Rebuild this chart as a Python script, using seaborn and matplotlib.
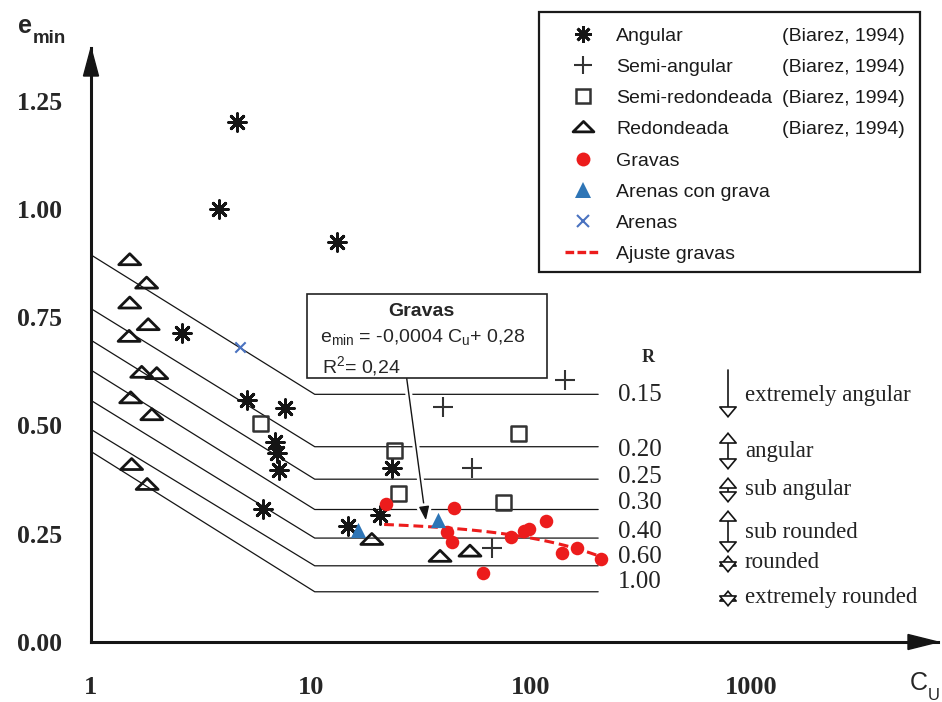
import numpy as np
import matplotlib
matplotlib.use("Agg")
import matplotlib.pyplot as plt
import seaborn as sns
from matplotlib.lines import Line2D
from matplotlib.patches import Rectangle, Polygon
from matplotlib.path import Path
from matplotlib.ticker import NullLocator, FixedLocator
import matplotlib.patheffects as pe

# ---------------- data ----------------
# Biarez (1994) reference points, e_min versus uniformity coefficient Cu
angular_cu = [4.62, 3.82, 13.1, 2.58, 5.13, 7.62, 6.86, 7.03, 7.18, 6.02, 23.3, 20.6, 14.8]
angular_e = [1.20, 1.00, 0.924, 0.713, 0.560, 0.540, 0.463, 0.437, 0.397, 0.307, 0.401, 0.293, 0.267]

semiang_cu = [142.7, 39.9, 54.1, 66.3]
semiang_e = [0.604, 0.543, 0.401, 0.216]

semired_cu = [5.91, 24.0, 87.6, 25.0, 74.8]
semired_e = [0.505, 0.442, 0.481, 0.343, 0.322]

redond_cu = [1.50, 1.79, 1.50, 1.82, 1.49, 1.70, 1.99, 1.515, 1.89, 1.53, 1.80, 18.9, 38.6, 52.8]
redond_e = [0.882, 0.828, 0.782, 0.732, 0.705, 0.622, 0.619, 0.563, 0.524, 0.409, 0.363, 0.236, 0.197, 0.209]

# own samples
gravas_cu = [21.9, 44.7, 41.4, 43.6, 80.9, 92.9, 98.3, 116.6, 60.3, 137.9, 161.3, 207.4]
gravas_e = [0.319, 0.309, 0.255, 0.232, 0.242, 0.257, 0.260, 0.280, 0.159, 0.205, 0.216, 0.192]

arenas_grava_cu = [16.4, 37.9]
arenas_grava_e = [0.259, 0.282]

arenas_cu = [4.76]
arenas_e = [0.681]

# linear fit for the gravels
fit_slope = -0.0004
fit_intercept = 0.28
fit_r2 = 0.24
fit_cu_min, fit_cu_max = 21.5, 210.0

# roundness (R) reference lines
r_labels = ["0.15", "0.20", "0.25", "0.30", "0.40", "0.60", "1.00"]
r_e_at_cu1 = [0.894, 0.770, 0.697, 0.628, 0.558, 0.491, 0.440]
r_e_plateau = [0.572, 0.451, 0.376, 0.306, 0.240, 0.176, 0.116]
r_knee_cu = 10.4
r_end_cu = 202.0
roundness_classes = ["extremely angular", "angular", "sub angular",
                     "sub rounded", "rounded", "extremely rounded"]

x_ticks = [1, 10, 100, 1000]
x_ticklabels = ["1", "10", "100", "1000"]
y_ticks = [0.0, 0.25, 0.50, 0.75, 1.00, 1.25]
y_ticklabels = ["0.00", "0.25", "0.50", "0.75", "1.00", "1.25"]

legend_labels = ["Angular", "Semi-angular", "Semi-redondeada", "Redondeada",
                 "Gravas", "Arenas con grava", "Arenas", "Ajuste gravas"]
citation = "(Biarez, 1994)"

# ---------------- style ----------------
sns.set_theme(style="white")
plt.rcParams["font.family"] = ["Liberation Sans", "DejaVu Sans"]
plt.rcParams["mathtext.fontset"] = "custom"
plt.rcParams["mathtext.rm"] = "Liberation Sans"
plt.rcParams["mathtext.it"] = "Liberation Sans:italic"
plt.rcParams["mathtext.bf"] = "Liberation Sans:bold"

SERIF = ["Liberation Serif", "DejaVu Serif"]
SANS = ["Liberation Sans", "DejaVu Sans"]
RED = "#ec1c1c"
BLUE = "#2e75b6"
XBLUE = "#4a72c0"
INK = "#151515"

W, H = 942, 702
DPI = 100


def fpx(x, y):
    """figure fraction from pixel position (origin top-left)"""
    return (x / W, 1 - y / H)


fig = plt.figure(figsize=(W / DPI, H / DPI), dpi=DPI)
fig.patch.set_facecolor("white")

# axes: Cu = 1 at the vertical axis, 220 px per decade, 433 px per unit e_min
ax_l, ax_r, ax_b, ax_t = 91, 938, 642, 48
ax = fig.add_axes([ax_l / W, 1 - ax_b / H, (ax_r - ax_l) / W, (ax_b - ax_t) / H])
ax.set_facecolor("white")
ax.set_xscale("log")
ax.set_xlim(1, 10 ** ((ax_r - ax_l) / 220))
ax.set_ylim(0, (ax_b - ax_t) / 433)

# roundness lines
for e0, ep in zip(r_e_at_cu1, r_e_plateau):
    ax.plot([1, r_knee_cu, r_end_cu], [e0, ep, ep], color=INK, lw=0.9, zorder=1)

# squat open triangle marker
tri_path = Path([(-1, -0.42), (1, -0.42), (0, 0.58), (-1, -0.42)],
                [Path.MOVETO, Path.LINETO, Path.LINETO, Path.CLOSEPOLY])
star = (8, 2, 0)

sns.scatterplot(x=angular_cu, y=angular_e, ax=ax, marker=star, s=160,
                color=INK, linewidth=2.1, zorder=3)
sns.scatterplot(x=semiang_cu, y=semiang_e, ax=ax, marker="+", s=190,
                color="#333333", linewidth=1.5, zorder=3)
sns.scatterplot(x=semired_cu, y=semired_e, ax=ax, marker="s", s=120,
                facecolor="none", edgecolor="#333333", linewidth=1.8, zorder=3)
sns.scatterplot(x=redond_cu, y=redond_e, ax=ax, marker=tri_path, s=250,
                facecolor="none", edgecolor=INK, linewidth=2.0, zorder=3)
sns.scatterplot(x=arenas_cu, y=arenas_e, ax=ax, marker="x", s=55,
                color=XBLUE, linewidth=1.5, zorder=3)

fit_cu = np.geomspace(fit_cu_min, fit_cu_max, 120)
fit_e = fit_slope * fit_cu + fit_intercept
sns.lineplot(x=fit_cu, y=fit_e, ax=ax, color=RED, linewidth=2.2,
             linestyle=(0, (3.2, 1.6)), zorder=4)

sns.scatterplot(x=gravas_cu, y=gravas_e, ax=ax, marker="o", s=95,
                color=RED, edgecolor=RED, linewidth=0, zorder=5)
sns.scatterplot(x=arenas_grava_cu, y=arenas_grava_e, ax=ax, marker="^", s=120,
                color=BLUE, edgecolor=BLUE, linewidth=0, zorder=5)

# axes, ticks and arrowheads
for side in ("top", "right"):
    ax.spines[side].set_visible(False)
for side in ("left", "bottom"):
    ax.spines[side].set_linewidth(2.2)
    ax.spines[side].set_color(INK)
ax.grid(False)

ax.xaxis.set_major_locator(FixedLocator(x_ticks))
ax.xaxis.set_minor_locator(NullLocator())
ax.set_xticklabels(x_ticklabels, fontfamily=SERIF, fontweight="bold", fontsize=19)
ax.set_yticks(y_ticks)
ax.set_yticklabels(y_ticklabels, fontfamily=SERIF, fontweight="bold", fontsize=18.5)
ax.tick_params(axis="x", direction="inout", length=17, width=1.5, color=INK, pad=16)
ax.tick_params(axis="y", direction="inout", length=16, width=1.5, color=INK, pad=13)

axw, axh = ax_r - ax_l, ax_b - ax_t
ax.add_patch(Polygon([[-7.5 / axw, 1 - 28 / axh], [7.5 / axw, 1 - 28 / axh], [0, 1]],
                     closed=True, transform=ax.transAxes, clip_on=False,
                     color=INK, zorder=6))
ax.add_patch(Polygon([[1 - 30 / axw, -7.5 / axh], [1 - 30 / axw, 7.5 / axh], [1, 0]],
                     closed=True, transform=ax.transAxes, clip_on=False,
                     color=INK, zorder=6))

# axis titles
fig.text(*fpx(18, 33), "e", fontsize=18, fontweight="bold", family=SANS, va="baseline")
fig.text(*fpx(33, 43), "min", fontsize=13.5, fontweight="bold", family=SANS, va="baseline")
fig.text(*fpx(910, 690), "C", fontsize=18, family=SANS, va="baseline")
fig.text(*fpx(928, 700), "U", fontsize=12, family=SANS, va="baseline")

# roundness scale on the right
fig.text(*fpx(648, 357), "R", fontsize=13, fontweight="bold", family=SERIF,
         ha="center", va="center")
r_label_y = [395, 450, 477, 503, 532, 557, 582]
for lab, yy in zip(r_labels, r_label_y):
    fig.text(*fpx(640, yy), lab, fontsize=18, family=SERIF, ha="center",
             va="center", color="#222222")

arrow_spans = [(370, 418, "-|>"), (432, 470, "<|-|>"), (477, 503, "<|-|>"),
               (510, 553, "<|-|>"), (555, 573, "<|-|>"), (590, 607, "<|-|>")]
class_y = [395, 452, 490, 532, 562, 598]
for (y0, y1, style), name, yy in zip(arrow_spans, roundness_classes, class_y):
    ax.annotate("", xy=fpx(728, y1), xytext=fpx(728, y0),
                xycoords="figure fraction", textcoords="figure fraction",
                arrowprops=dict(arrowstyle=style + ",head_length=0.5,head_width=0.42",
                                fc="white", ec=INK, lw=1.2, shrinkA=0, shrinkB=0,
                                mutation_scale=14))
    fig.text(*fpx(745, yy), name, fontsize=16.5, family=SERIF, va="center",
             color="#222222")

# fit annotation box
fig.add_artist(Rectangle(fpx(306.7, 378.3), (546.7 - 306.7) / W, (378.3 - 294) / H,
                         transform=fig.transFigure, fill=True, fc="white",
                         ec="#222222", lw=1.2, zorder=2))
fig.text(*fpx(421.7, 311.7), "Gravas", fontsize=14, fontweight="bold", family=SANS,
         ha="center", va="center", zorder=3)
fig.text(*fpx(320, 336.7),
         r"e$_{\rm min}$ = %s C$_{\rm u}$+ %s" % (f"{fit_slope:.4f}".replace(".", ","),
                                                 f"{fit_intercept:.2f}".replace(".", ",")),
         fontsize=14, family=SANS, va="center", zorder=3)
fig.text(*fpx(321.7, 366), r"R$^{2}$= %s" % f"{fit_r2:.2f}".replace(".", ","),
         fontsize=14, family=SANS, va="center", zorder=3)

arrow_cu = 33.6
ann = ax.annotate("", xy=(arrow_cu, fit_slope * arrow_cu + fit_intercept),
                  xycoords="data", xytext=fpx(406.7, 378.3),
                  textcoords="figure fraction",
                  arrowprops=dict(arrowstyle="-|>,head_length=0.6,head_width=0.22",
                                  color=INK, lw=1.0, shrinkA=0, shrinkB=4.5,
                                  mutation_scale=14), zorder=6)
ann.arrow_patch.set_path_effects([pe.Stroke(linewidth=5, foreground="white"), pe.Normal()])

# legend
handles = [
    Line2D([], [], ls="none", marker=star, ms=12, mec=INK, mew=2.0),
    Line2D([], [], ls="none", marker="+", ms=13, mec="#333333", mew=1.5),
    Line2D([], [], ls="none", marker="s", ms=10, mfc="none", mec="#333333", mew=1.8),
    Line2D([], [], ls="none", marker=tri_path, ms=15, mfc="none", mec=INK, mew=2.0),
    Line2D([], [], ls="none", marker="o", ms=10, mfc=RED, mec=RED, mew=0),
    Line2D([], [], ls="none", marker="^", ms=11, mfc=BLUE, mec=BLUE, mew=0),
    Line2D([], [], ls="none", marker="x", ms=9, mec=XBLUE, mew=1.5),
    Line2D([], [], color=RED, lw=2.4, ls=(0, (2.6, 1.0))),
]
leg = fig.legend(handles, legend_labels, loc="upper left", bbox_to_anchor=fpx(565, 27),
                 frameon=False, borderpad=0, borderaxespad=0, handlelength=1.8,
                 handletextpad=0.82, labelspacing=0.70,
                 prop={"family": SANS, "size": 14})
for t in leg.get_texts():
    t.set_color("#1a1a1a")
fig.add_artist(Rectangle(fpx(539, 272), (920 - 539) / W, (272 - 12) / H,
                         transform=fig.transFigure, fill=False, ec="#1a1a1a", lw=1.6))

fig.canvas.draw()
renderer = fig.canvas.get_renderer()
for t in leg.get_texts()[:4]:
    bb = t.get_window_extent(renderer)
    yc = 0.5 * (bb.y0 + bb.y1) / fig.bbox.height
    fig.text(782 / W, yc, citation, fontsize=14, family=SANS, va="center",
             color="#1a1a1a")

fig.savefig("out.png", dpi=DPI, facecolor="white")
